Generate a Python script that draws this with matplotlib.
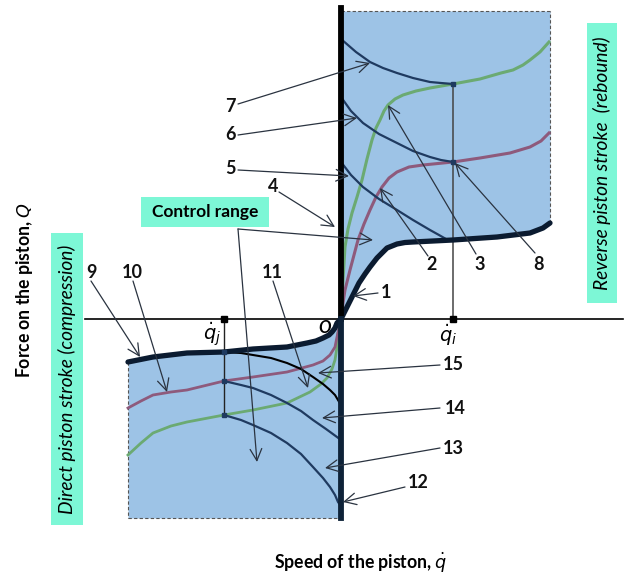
import matplotlib
matplotlib.use("Agg")
import matplotlib.pyplot as plt
from matplotlib.patches import Rectangle
import numpy as np

plt.rcParams['font.family'] = ['Lato', 'DejaVu Sans']

# ---------------- data (speed, force) in arbitrary schematic units ----------------
# rebound (reverse stroke) side
c1_x = [0, 4, 8, 12, 18, 24, 29, 36, 46, 56, 64, 72, 112, 156, 189, 202, 209]
c1_y = [0, 8, 16, 24, 36, 45, 52, 61, 71, 75, 76.5, 77, 79, 82, 86, 91, 96]
c7_x = [0, 15, 29, 42, 56, 72, 89, 100, 112]
c7_y = [280, 267, 257, 251, 246, 241, 237, 236, 235]
c6_x = [0, 10, 22, 38, 56, 72, 89, 100, 112]
c6_y = [222, 208, 196, 185, 176, 168, 162, 159, 157]
c5_x = [0, 10, 22, 38, 56, 72, 89, 98, 105]
c5_y = [157, 144, 132, 120, 109, 99, 89, 84, 80]
green_up_x = [0, 2, 4, 7, 11, 16, 21, 26, 31, 35, 39, 43, 47, 54, 62, 75, 89, 112, 139, 160, 172, 182, 189, 199, 208]
green_up_y = [0, 39, 72, 90, 106, 122, 139, 160, 179, 191, 199, 208, 214, 220, 224, 228, 231, 235, 240, 246, 249, 254, 259, 267, 277]
purple_up_x = [0, 2, 4, 9, 13, 17, 23, 29, 35, 41, 48, 56, 68, 82, 112, 139, 169, 189, 200, 208]
purple_up_y = [0, 16, 29, 49, 64, 79, 95, 109, 122, 132, 141, 147, 152, 154, 157, 161, 166, 172, 178, 186]

# compression (direct stroke) side
c9_x = [-213, -188, -154, -117, -88, -54, -34, -25, -18, -12, -9, -6, -4, -2, 0]
c9_y = [-43, -38, -34, -33, -30, -28, -24, -22, -19, -16, -13, -9, -4, -2, 0]
c15_x = [-117, -100, -88, -70, -54, -40, -28, -18, -11, -6, -3, 0]
c15_y = [-33, -34, -36, -39, -44, -50, -58, -65, -71, -76, -81, -86]
c14_x = [-117, -100, -88, -70, -54, -40, -28, -15, -4, 0]
c14_y = [-62, -66, -69, -76, -84, -92, -101, -110, -118, -121]
c13_x = [-117, -100, -88, -70, -54, -40, -28, -18, -11, -6, -3, 0]
c13_y = [-96, -101, -106, -114, -124, -135, -148, -159, -168, -176, -183, -187]
purple_dn_x = [-213, -200, -188, -170, -154, -117, -88, -54, -28, -18, -11, -6, -4, -2, 0]
purple_dn_y = [-89, -82, -76, -73, -71, -62, -58, -53, -46, -42, -36, -28, -18, -9, 0]
green_dn_x = [-213, -200, -188, -170, -154, -117, -88, -54, -31, -20, -14, -9, -6, -4, -3, -1, 0]
green_dn_y = [-136, -124, -114, -107, -103, -96, -91, -84, -73, -65, -59, -50, -41, -28, -14, -6, 0]

q_i = 112
q_j = -117
f_top = 308
f_bottom = -199
v_top = 311

# ---------------- figure ----------------
fig = plt.figure(figsize=(6.29, 5.74), dpi=100)
ax = fig.add_axes([0, 0, 1, 1])
ax.set_xlim(-341, 288)
ax.set_ylim(-255, 319)
ax.axis('off')

BLUE = '#9DC3E6'
NAVY = '#1F3A60'
DARK = '#0B1B30'
GREEN = '#6BAA72'
PURPLE = '#8E5A7C'
AQUA = '#7DF7D6'
ARROW = '#2A3340'

# fills
ax.fill_between(c1_x, c1_y, f_top, color=BLUE, lw=0, zorder=1)
ax.fill_between(c9_x, c9_y, f_bottom, color=BLUE, lw=0, zorder=1)
# dashed borders
dash = dict(ls=(0, (3, 2)), color='#555555', lw=0.8, zorder=2)
ax.plot([0, c1_x[-1]], [f_top, f_top], **dash)
ax.plot([c1_x[-1], c1_x[-1]], [c1_y[-1], f_top], **dash)
ax.plot([c9_x[0], c9_x[0]], [c9_y[0], f_bottom], **dash)
ax.plot([c9_x[0], 0], [f_bottom, f_bottom], **dash)

# horizontal axis
ax.plot([-256, 282], [0, 0], color='black', lw=1.2, zorder=3)

# control lines
ax.plot([q_i, q_i], [0, c7_y[-1]], color='#444444', lw=1.1, zorder=3)
ax.plot([q_j, q_j], [0, green_dn_y[5]], color='#222222', lw=1.0, zorder=3)

# curves
ax.plot(green_up_x, green_up_y, color=GREEN, lw=2.2, zorder=4)
ax.plot(purple_up_x, purple_up_y, color=PURPLE, lw=2.2, zorder=4)
ax.plot(green_dn_x, green_dn_y, color=GREEN, lw=2.0, zorder=4)
ax.plot(purple_dn_x, purple_dn_y, color=PURPLE, lw=2.0, zorder=4)
for cx, cy in [(c7_x, c7_y), (c6_x, c6_y), (c5_x, c5_y), (c14_x, c14_y), (c13_x, c13_y)]:
    ax.plot(cx, cy, color=NAVY, lw=1.6, zorder=5)
ax.plot(c15_x, c15_y, color='black', lw=1.5, zorder=5)
ax.plot(c1_x, c1_y, color=DARK, lw=3.8, zorder=6, solid_capstyle='round')
ax.plot(c9_x, c9_y, color=DARK, lw=3.8, zorder=6, solid_capstyle='round')

# vertical axis (curves 4 and 12)
ax.plot([0, 0], [0, v_top], color='black', lw=4.2, zorder=7)
ax.plot([0, 0], [f_bottom, 0], color='#0E2238', lw=4.2, zorder=7)

# markers
ax.plot([q_i, q_i], [c7_y[-1], c6_y[-1]], 's', color=NAVY, ms=3, zorder=8)
ax.plot([q_j] * 3, [c9_y[3], purple_dn_y[5], green_dn_y[5]], 's', color=NAVY, ms=3, zorder=8)
ax.plot([q_i, q_j], [0, 0], 's', color='black', ms=4, zorder=8)

# annotations
def arrow(start, tip):
    ax.annotate('', xy=tip, xytext=start,
                arrowprops=dict(arrowstyle='->,head_length=0.7,head_width=0.35',
                                color=ARROW, lw=0.9, shrinkA=0, shrinkB=0,
                                mutation_scale=12), zorder=9)

label_kw = dict(fontsize=13, fontweight='bold', ha='center', va='center', color='#111111', zorder=10)
labels = [
    ('7', (-111, 212), (-103, 215), (29, 256)),
    ('6', (-111, 184), (-103, 184), (16, 201)),
    ('5', (-111, 151), (-103, 149), (8, 143)),
    ('4', (-68, 133), (-62, 127), (-6, 92)),
    ('1', (45, 26), (37, 26), (12, 23)),
    ('2', (91, 54), (87, 63), (39, 131)),
    ('3', (139, 54), (135, 65), (47, 214)),
    ('8', (197, 54), (194, 66), (114, 156)),
    ('9', (-250, 47), (-250, 38), (-201, -38)),
    ('10', (-209, 47), (-208, 38), (-174, -73)),
    ('11', (-69, 47), (-68, 38), (-33, -69)),
    ('15', (112, -46), (99, -46), (-23, -54)),
    ('14', (114, -89), (99, -89), (-19, -99)),
    ('13', (112, -129), (99, -129), (-16, -149)),
    ('12', (77, -164), (64, -168), (2, -183)),
]
for txt, pos, start, tip in labels:
    ax.text(pos[0], pos[1], txt, **label_kw)
    arrow(start, tip)

# control range box and arrows
ax.add_patch(Rectangle((-200, 92), 128, 30, color=AQUA, lw=0, zorder=9))
ax.text(-136, 107, 'Control range', fontsize=12.5, fontweight='bold', ha='center', va='center', zorder=10)
arrow((-103, 90), (32, 79))
arrow((-103, 90), (-84, -143))

# side boxes
ax.add_patch(Rectangle((-290, -206), 32, 292, color=AQUA, lw=0, zorder=9))
ax.text(-274, -60, 'Direct piston stroke (compression)', rotation=90, fontsize=13.8,
        style='italic', ha='center', va='center', zorder=10)
ax.add_patch(Rectangle((246, 16), 30, 280, color=AQUA, lw=0, zorder=9))
ax.text(261, 156, 'Reverse piston stroke  (rebound)', rotation=90, fontsize=13.8,
        style='italic', ha='center', va='center', zorder=10)

# axis titles
ax.text(-316, 29, 'Force on the piston, $Q$', rotation=90, fontsize=12.7, fontweight='bold',
        ha='center', va='center', zorder=10)
ax.text(20, -244, r'Speed of the piston, $\dot{q}$', fontsize=12.7, fontweight='bold',
        ha='center', va='center', zorder=10)

# point labels
ax.text(-16, -9, 'O', fontsize=12, fontweight='bold', style='italic', ha='center', va='center', zorder=10)
ax.text(q_j - 12, -16, r'$\dot{q}_j$', fontsize=14, ha='center', va='center', zorder=10)
ax.text(q_i - 5, -16, r'$\dot{q}_i$', fontsize=14, ha='center', va='center', zorder=10)

fig.savefig('out.png', dpi=100)
